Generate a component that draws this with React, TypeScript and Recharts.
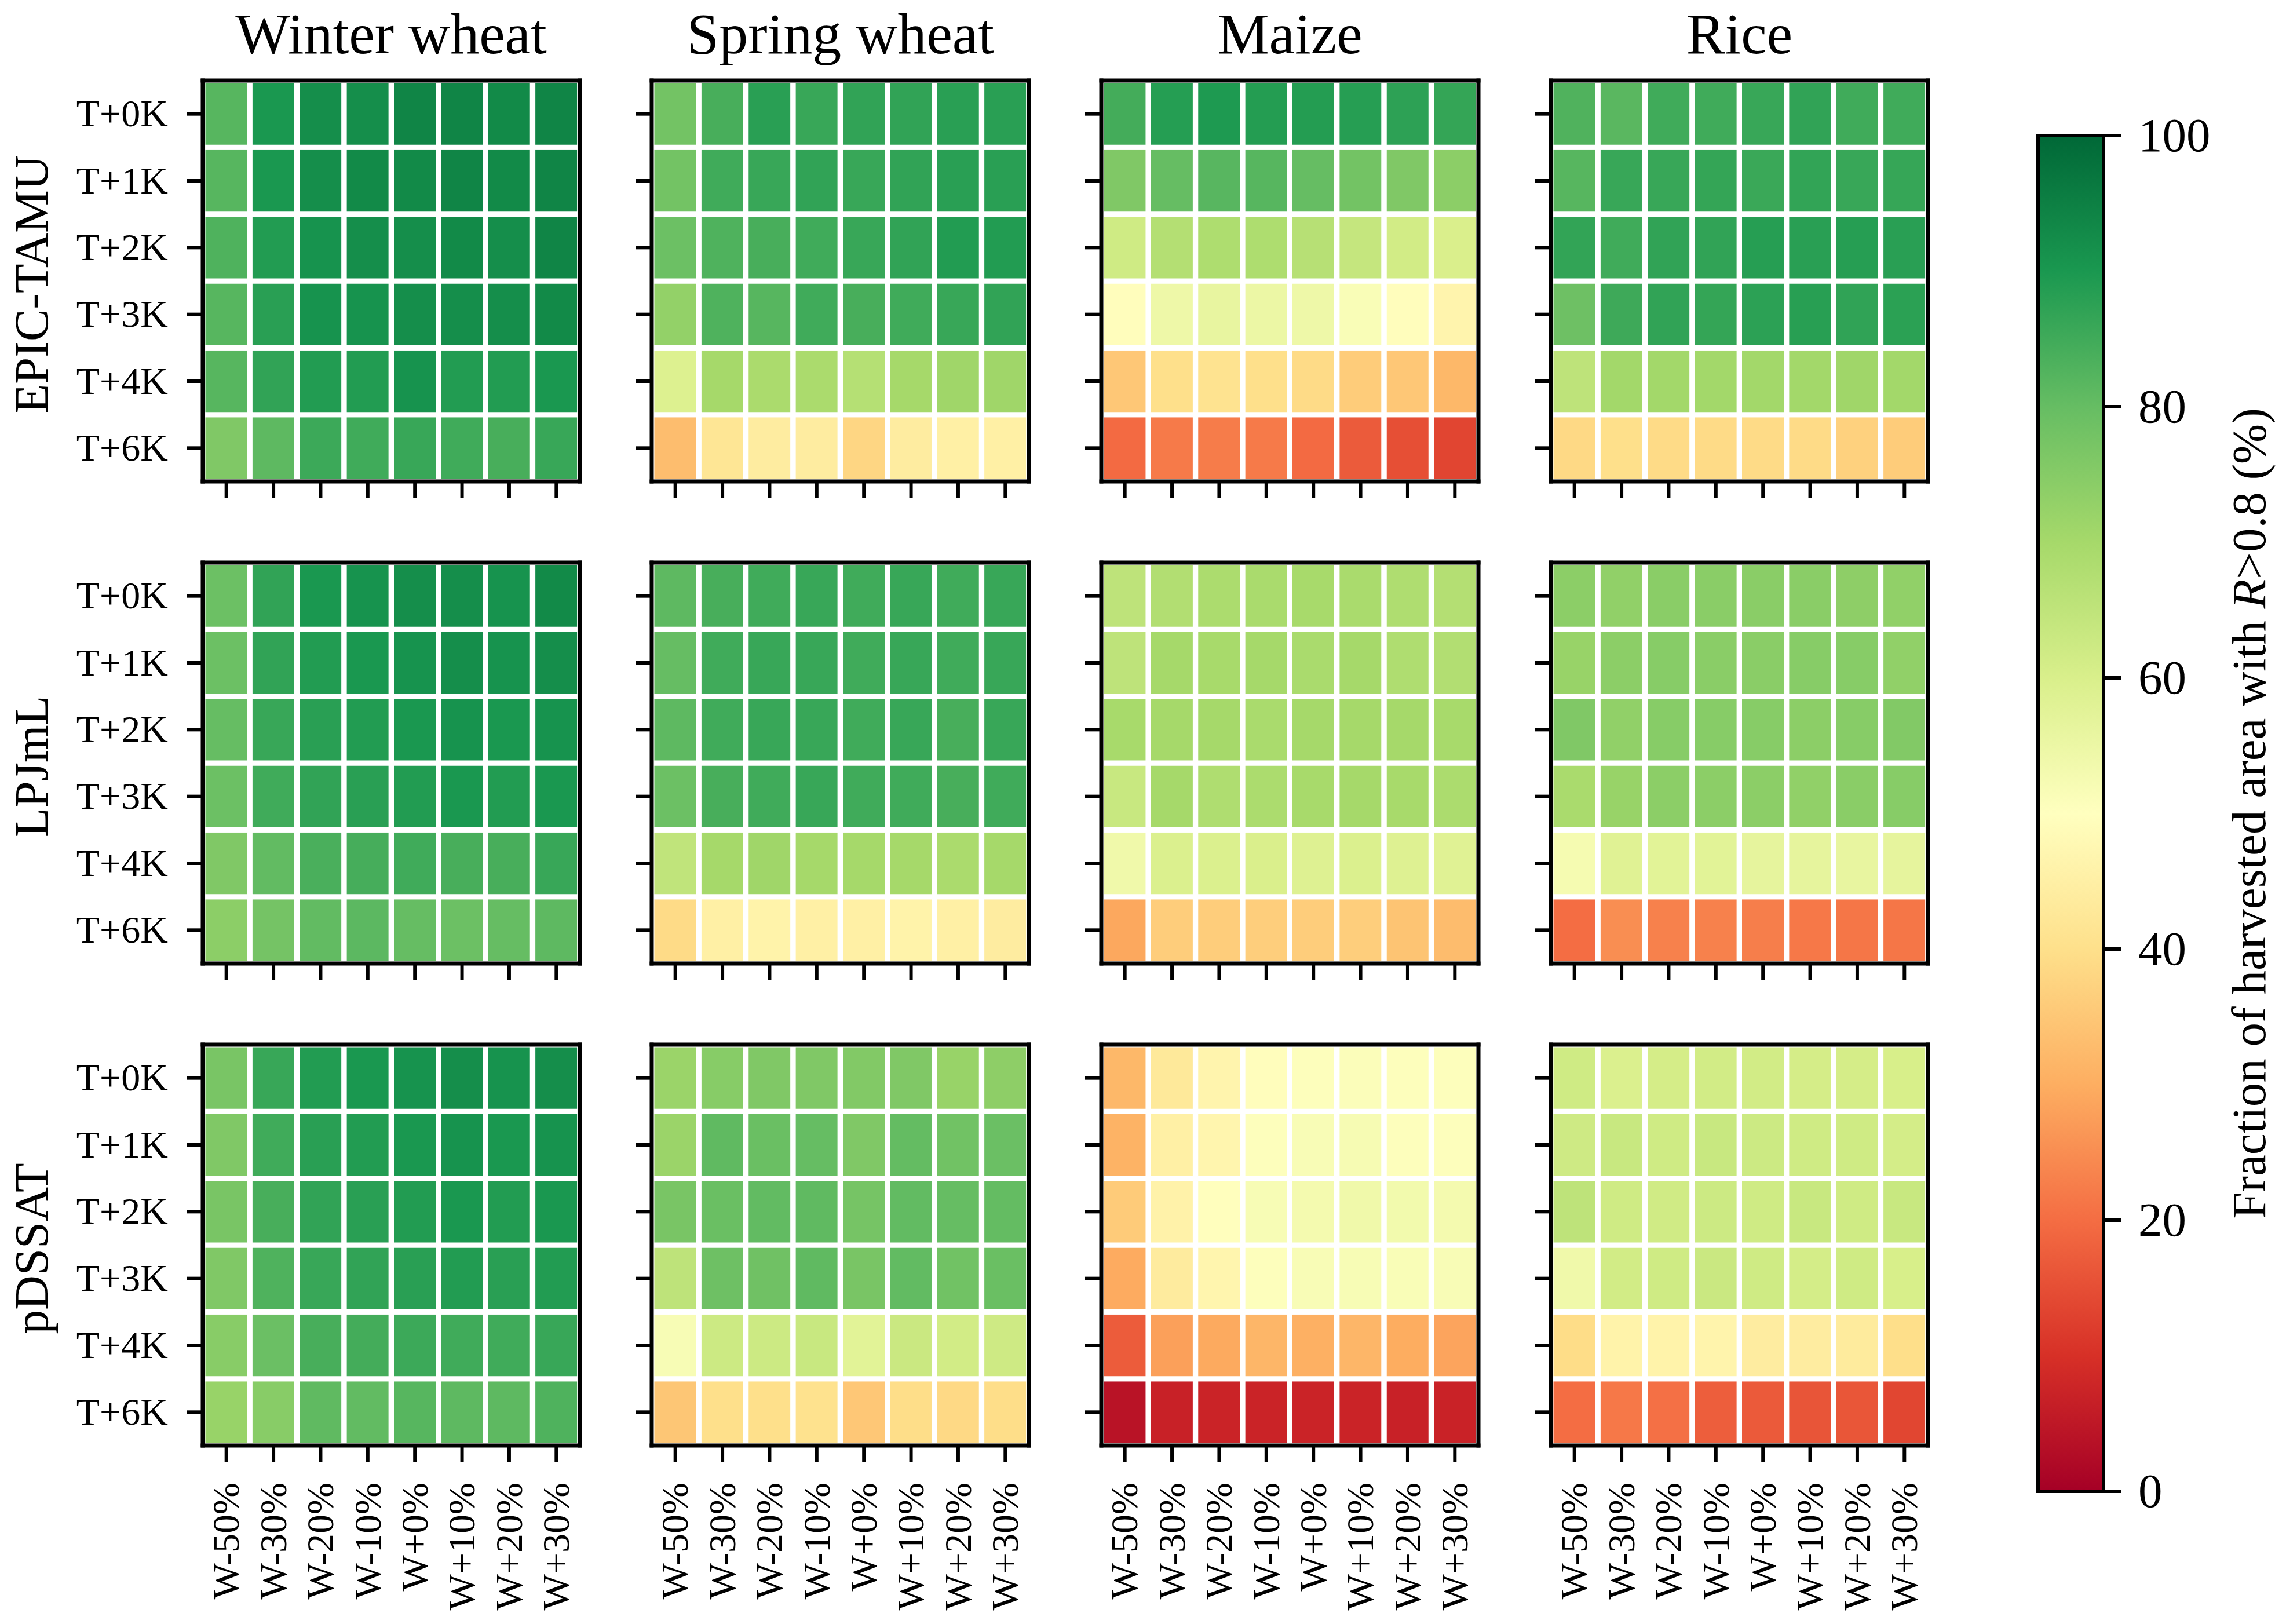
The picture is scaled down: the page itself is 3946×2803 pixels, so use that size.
import React from 'react';
import { BarChart, Bar, XAxis, YAxis, Cell } from 'recharts';

const FONT = '"Liberation Serif", "Times New Roman", serif';

const crops = ['Winter wheat', 'Spring wheat', 'Maize', 'Rice'];
const models = ['EPIC-TAMU', 'LPJmL', 'pDSSAT'];
const tempLabels = ['T+0K', 'T+1K', 'T+2K', 'T+3K', 'T+4K', 'T+6K'];
const waterLabels = ['W-50%', 'W-30%', 'W-20%', 'W-10%', 'W+0%', 'W+10%', 'W+20%', 'W+30%'];
const colorbarTicks = [0, 20, 40, 60, 80, 100];

// rows: T+0K ... T+6K ; columns: W-50% ... W+30%
const epicWinterWheat = [
  [82, 90, 92, 92, 94, 94, 93, 94],
  [82, 90, 92, 93, 93, 94, 93, 94],
  [83, 89, 91, 92, 92, 93, 92, 94],
  [82, 88, 91, 91, 92, 92, 92, 93],
  [82, 87, 89, 89, 91, 89, 89, 90],
  [76, 81, 85.5, 85, 86, 85, 84, 86],
];
const epicSpringWheat = [
  [78, 84, 88, 86, 87, 87, 88, 88],
  [78, 85, 86, 87, 86, 87, 88, 88],
  [79, 83, 84, 85, 86, 87, 89, 89],
  [73, 83, 82, 85, 84, 85, 86, 87],
  [59, 70, 69, 69, 67, 70, 71, 71],
  [33, 42, 44, 44, 38, 44, 45, 45],
];
const epicMaize = [
  [84.5, 88.5, 89.5, 88.7, 88.7, 88.4, 87.5, 86.6],
  [76, 80, 81.8, 82, 80, 78, 76, 74],
  [62, 67.3, 68.4, 68.4, 66.7, 64, 61.4, 59.8],
  [49.5, 54.5, 56, 55, 54.5, 51.5, 49.5, 46.5],
  [35, 40, 41, 40, 39, 36, 35, 32],
  [19.5, 22, 22.3, 22, 19.5, 17, 15, 13.5],
];
const epicRice = [
  [82.9, 81.6, 85, 85, 86, 87, 85, 85],
  [82, 86, 86, 86.6, 85.8, 86.8, 86, 86.3],
  [86.8, 85, 87, 87, 88.4, 88, 88.4, 88],
  [78.8, 85.3, 87, 86.6, 87.6, 88.2, 87.1, 87.7],
  [65.3, 70.5, 70.5, 70.5, 70.5, 70.5, 71, 70.5],
  [38.6, 40, 39, 39, 39, 39, 37, 36],
];

const lpjmlWinterWheat = [
  [79, 87, 90, 91, 92, 92, 91, 93],
  [79, 87, 89, 90, 91, 92, 91, 92],
  [80, 86, 88, 89, 90, 91, 90, 91],
  [79, 85, 87, 88, 89, 90, 89, 90],
  [76, 80.5, 83.7, 84.2, 85, 84, 84, 86],
  [74, 77.7, 80.5, 81.3, 80, 79, 80, 81],
];
const lpjmlSpringWheat = [
  [81, 84, 85, 86, 85, 86, 85, 86],
  [80, 85, 86, 86, 85, 86, 85, 86],
  [81, 85, 86, 86, 85, 86, 84, 86],
  [79, 84, 85, 86, 85, 85, 84, 85],
  [65, 70, 71, 70, 70, 70, 69, 70],
  [39, 45, 46, 45, 45, 46, 45, 44],
];
const lpjmlMaize = [
  [65.3, 67.6, 68.8, 69.2, 69.6, 69.2, 68.2, 67.3],
  [65.3, 70, 69.6, 70, 69.2, 70, 68.2, 67.6],
  [69.6, 70, 70, 69.2, 70, 70, 70, 69.6],
  [63.3, 70, 68.2, 68.8, 69.6, 70, 69.6, 68.8],
  [54, 59.4, 59.4, 59.8, 58.7, 59.4, 58.7, 58.2],
  [29, 36.2, 36.2, 36.4, 36.2, 36.4, 34.4, 32.8],
];
const lpjmlRice = [
  [74, 73.3, 74.4, 74.4, 74.4, 74.4, 73.8, 73.3],
  [72.2, 74, 74.8, 74.4, 74.4, 74.8, 74.8, 73.3],
  [76, 73.3, 74.8, 74.8, 74.8, 74, 74.8, 75.6],
  [69.2, 72.2, 74, 74, 74, 73.3, 74.4, 74.8],
  [52.6, 58.2, 57.6, 57.6, 56.6, 56.6, 56, 56.6],
  [20, 25, 23, 23, 22.6, 21.7, 21.4, 21.4],
];

const pdssatWinterWheat = [
  [77, 86, 89, 90, 91, 92, 91, 92],
  [76, 85, 88, 89, 90, 91, 90, 91],
  [77, 84, 87, 88, 89, 90, 89, 90],
  [76, 83, 86, 87, 88, 89, 88, 89],
  [74.7, 79.2, 84, 84.5, 85.5, 85, 85, 86],
  [72.2, 74.7, 80.8, 80.5, 82, 81, 81, 83],
];
const pdssatSpringWheat = [
  [71.7, 74.8, 76, 76, 75.6, 76, 72.2, 73.8],
  [71.7, 80.8, 79.4, 80, 76, 80.3, 78.3, 79.2],
  [77, 79.4, 80.5, 80.8, 77.5, 80.5, 80, 80.3],
  [65.3, 78.8, 78.4, 80.8, 77, 80.5, 78.3, 79.4],
  [52, 62.5, 62.5, 63.3, 57.6, 63, 61.4, 62.2],
  [34.8, 40, 40, 40.5, 35, 39.6, 38.5, 39.6],
];
const pdssatMaize = [
  [32, 42.9, 46.5, 49.4, 50.6, 51, 50.5, 50.5],
  [31, 45, 46.8, 50.5, 51.8, 52.3, 50.5, 50.5],
  [35.8, 45.8, 49.6, 52, 53, 54, 53.4, 53],
  [29.6, 43.6, 46.8, 50.6, 51.8, 52, 51.5, 51.8],
  [17.2, 27.8, 29.4, 31.6, 30.4, 31.6, 29.8, 28.5],
  [4, 6.9, 7.3, 7.3, 7.3, 7.3, 6.9, 7.1],
];
const pdssatRice = [
  [62, 59.4, 60.8, 61.4, 61.4, 60.8, 60.8, 60.2],
  [62.2, 63.3, 62, 63.3, 62.5, 62, 62, 61],
  [65.3, 62, 61.8, 62.5, 62, 63.3, 62, 63.3],
  [54, 61.4, 62, 63, 62, 61, 62, 60.2],
  [39.3, 46, 46, 46.4, 44, 44, 43.4, 39.7],
  [20, 21.7, 20.5, 17.5, 16.9, 16, 16.2, 13.6],
];

const panelValues = [
  [epicWinterWheat, epicSpringWheat, epicMaize, epicRice],
  [lpjmlWinterWheat, lpjmlSpringWheat, lpjmlMaize, lpjmlRice],
  [pdssatWinterWheat, pdssatSpringWheat, pdssatMaize, pdssatRice],
];

// RdYlGn colormap
const RDYLGN = ['#a50026', '#d73027', '#f46d43', '#fdae61', '#fee08b', '#ffffbf', '#d9ef8b', '#a6d96a', '#66bd63', '#1a9850', '#006837'];
const ANCH = RDYLGN.map((h) => [parseInt(h.slice(1, 3), 16), parseInt(h.slice(3, 5), 16), parseInt(h.slice(5, 7), 16)]);
function rdylgn(v: number): string {
  const t = Math.max(0, Math.min(100, v)) / 10;
  const i = Math.min(9, Math.floor(t));
  const f = t - i;
  const a = ANCH[i];
  const b = ANCH[i + 1];
  const c = a.map((x, k) => Math.round(x + (b[k] - x) * f));
  return `rgb(${c[0]},${c[1]},${c[2]})`;
}

// layout
const PANEL_X0 = 349.5;
const PANEL_DX = 775.8;
const PANEL_Y = [139, 971, 1803];
const PW = 651;
const PH = 692;
const LEFT_W = 300;
const TOP_M = 20;
const RIGHT_M = 20;
const BOTTOM_H = 300;

const spine = { stroke: '#000', strokeWidth: 7, strokeLinecap: 'square' as const };
const tickStyle = { stroke: '#000', strokeWidth: 6 };

function makeXTick(show: boolean) {
  return (props: any) => {
    const { x, y, payload } = props;
    if (!show) return <g />;
    return (
      <text
        x={x}
        y={y}
        transform={`rotate(-90 ${x} ${y})`}
        textAnchor="end"
        dy="0.33em"
        fontSize={66}
        fontFamily={FONT}
        fill="#000"
      >
        {payload.value}
      </text>
    );
  };
}

function makeYTick(show: boolean) {
  return (props: any) => {
    const { x, y, payload } = props;
    if (!show) return <g />;
    const idx = Math.round(5.5 - payload.value);
    return (
      <text x={x} y={y} textAnchor="end" dy="0.33em" fontSize={66} fontFamily={FONT} fill="#000">
        {tempLabels[idx]}
      </text>
    );
  };
}

function Heatmap({ values, row, col }: { values: number[][]; row: number; col: number }) {
  const data = waterLabels.map((w) => {
    const o: any = { w };
    tempLabels.forEach((_, i) => {
      o['r' + i] = 1;
    });
    return o;
  });
  const left = PANEL_X0 + col * PANEL_DX - LEFT_W;
  const top = PANEL_Y[row] - TOP_M;
  const order = [5, 4, 3, 2, 1, 0];
  return (
    <div style={{ position: 'absolute', left, top }}>
      <BarChart
        width={LEFT_W + PW + RIGHT_M}
        height={TOP_M + PH + BOTTOM_H}
        data={data}
        margin={{ top: TOP_M - 2, right: RIGHT_M - 2, bottom: 0, left: 0 }}
        barCategoryGap={0}
        barGap={0}
      >
        {order.map((i) => (
          <Bar key={i} dataKey={'r' + i} stackId="s" isAnimationActive={false} stroke="#fff" strokeWidth={9}>
            {values[i].map((v, j) => (
              <Cell key={j} fill={rdylgn(v)} />
            ))}
          </Bar>
        ))}
        <XAxis
          dataKey="w"
          type="category"
          height={BOTTOM_H}
          tickSize={28}
          tickMargin={36}
          interval={0}
          axisLine={spine}
          tickLine={tickStyle}
          tick={makeXTick(row === 2)}
        />
        <YAxis
          type="number"
          domain={[0, 6]}
          ticks={[0.5, 1.5, 2.5, 3.5, 4.5, 5.5]}
          width={LEFT_W}
          tickSize={28}
          tickMargin={32}
          interval={0}
          axisLine={spine}
          tickLine={tickStyle}
          tick={makeYTick(col === 0)}
          allowDataOverflow
        />
        <XAxis
          xAxisId="top"
          orientation="top"
          dataKey="w"
          type="category"
          height={2}
          tick={false}
          tickLine={false}
          axisLine={spine}
        />
        <YAxis
          yAxisId="right"
          orientation="right"
          type="number"
          domain={[0, 6]}
          width={2}
          tick={false}
          tickLine={false}
          axisLine={spine}
        />
      </BarChart>
    </div>
  );
}

const CB_LEFT = 3518;
const CB_TOP = 234;
const CB_W = 113;
const CB_H = 2340;

function CbTick(props: any) {
  const { x, y, payload } = props;
  return (
    <text x={x} y={y} textAnchor="start" dy="0.33em" fontSize={83} fontFamily={FONT} fill="#000">
      {payload.value}
    </text>
  );
}

function Colorbar() {
  const stops = RDYLGN.map((_, k) => {
    const v = 100 - k * 10;
    return <stop key={k} offset={`${k * 10}%`} stopColor={rdylgn(v)} />;
  });
  return (
    <div style={{ position: 'absolute', left: CB_LEFT - 10, top: CB_TOP - 60 }}>
      <BarChart
        width={10 + CB_W + 300}
        height={60 + CB_H + 60}
        data={[{ name: 'cb', v: 100 }]}
        margin={{ top: 60, right: 0, bottom: 60, left: 10 }}
        barCategoryGap={0}
        barGap={0}
      >
        <defs>
          <linearGradient id="cbGrad" x1="0" y1="0" x2="0" y2="1">
            {stops}
          </linearGradient>
        </defs>
        <XAxis dataKey="name" hide />
        <YAxis
          orientation="right"
          type="number"
          domain={[0, 100]}
          ticks={colorbarTicks}
          width={300}
          tickSize={30}
          tickMargin={30}
          interval={0}
          axisLine={false}
          tickLine={tickStyle}
          tick={CbTick}
        />
        <Bar dataKey="v" fill="url(#cbGrad)" stroke="#000" strokeWidth={6} isAnimationActive={false} />
      </BarChart>
    </div>
  );
}

export default function App() {
  return (
    <div style={{ position: 'absolute', left: 0, top: 0, width: 3946, height: 2803, background: '#fff', overflow: 'hidden' }}>
      {panelValues.map((rowVals, r) =>
        rowVals.map((vals, c) => <Heatmap key={`${r}-${c}`} values={vals} row={r} col={c} />)
      )}
      <Colorbar />
      <svg width={3946} height={2803} style={{ position: 'absolute', left: 0, top: 0, pointerEvents: 'none' }}>
        {crops.map((t, c) => (
          <text
            key={t}
            x={PANEL_X0 + c * PANEL_DX + PW / 2}
            y={92}
            textAnchor="middle"
            fontSize={100}
            fontFamily={FONT}
            fill="#000"
          >
            {t}
          </text>
        ))}
        {models.map((m, r) => {
          const cy = PANEL_Y[r] + PH / 2 + 6;
          return (
            <text
              key={m}
              x={82}
              y={cy}
              transform={`rotate(-90 82 ${cy})`}
              textAnchor="middle"
              fontSize={83}
              fontFamily={FONT}
              fill="#000"
            >
              {m}
            </text>
          );
        })}
        <text
          x={3910}
          y={CB_TOP + CB_H / 2}
          transform={`rotate(-90 3910 ${CB_TOP + CB_H / 2})`}
          textAnchor="middle"
          fontSize={83}
          fontFamily={FONT}
          fill="#000"
        >
          Fraction of harvested area with <tspan fontStyle="italic">R</tspan>
          {'>0.8 (%)'}
        </text>
      </svg>
    </div>
  );
}
